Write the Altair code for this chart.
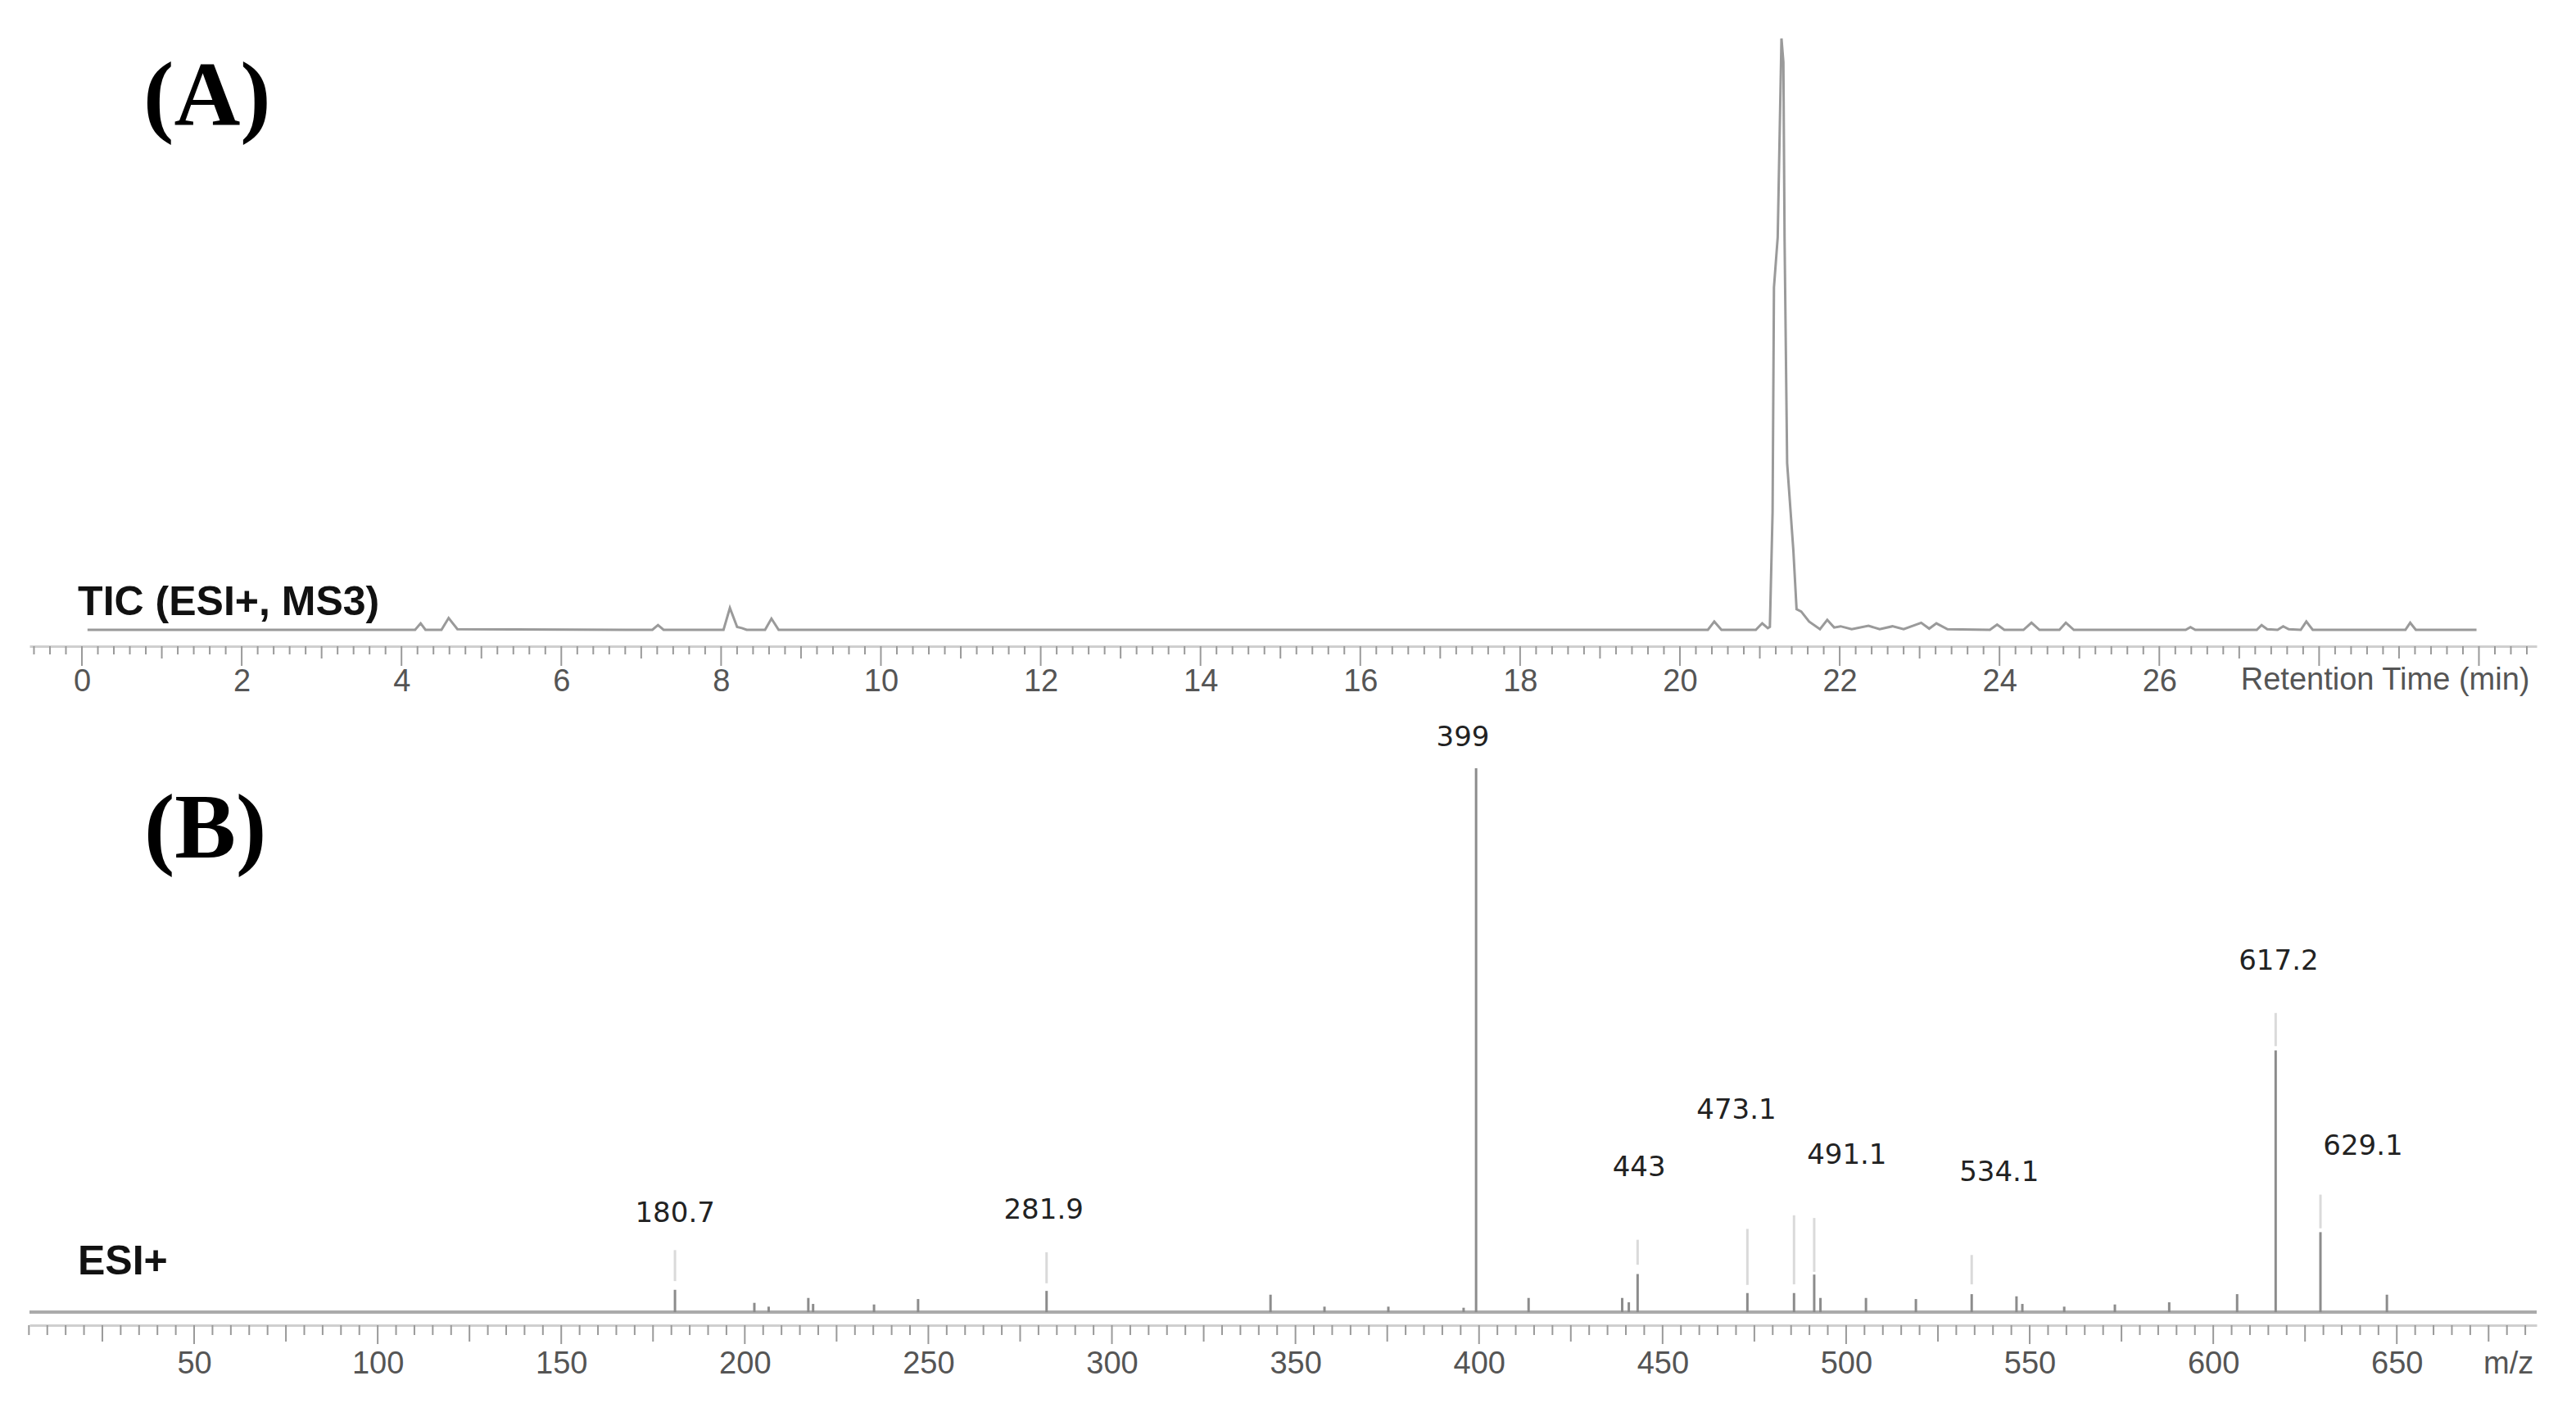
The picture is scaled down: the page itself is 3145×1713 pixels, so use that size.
import altair as alt
import numpy as np
import pandas as pd

# ---------------- Panel A: TIC chromatogram ----------------
tic_time = [0.07, 4.17, 4.24, 4.30, 4.50, 4.59, 4.70, 7.14, 7.21, 7.28,
            8.03, 8.11, 8.20, 8.26, 8.32, 8.55, 8.63, 8.72,
            20.35, 20.43, 20.52, 20.95, 21.03, 21.10, 21.126, 21.16, 21.177,
            21.224, 21.271, 21.295, 21.31, 21.342, 21.42, 21.46, 21.518,
            21.617, 21.753, 21.844, 21.93, 22.01, 22.15, 22.36, 22.50, 22.66,
            22.80, 23.02, 23.12, 23.21, 23.35, 23.88, 23.97, 24.06, 24.30,
            24.40, 24.50, 24.75, 24.83, 24.93, 26.33, 26.39, 26.45, 27.22,
            27.28, 27.35, 27.48, 27.55, 27.62, 27.77, 27.84, 27.92, 29.08,
            29.14, 29.21, 29.97]
tic_int = [0, 0, 1.1, 0, 0, 2.0, 0.1, 0, 0.8, 0,
           0, 3.7, 0.5, 0.3, 0, 0, 1.9, 0,
           0, 1.4, 0, 0, 1.1, 0.3, 0.5, 20, 57.9,
           66.4, 100, 96, 66, 28.2, 13.4, 3.5, 3.1,
           1.4, 0.1, 1.7, 0.4, 0.6, 0.1, 0.7, 0.1, 0.6,
           0.1, 1.2, 0.2, 1.1, 0.1, 0, 0.9, 0, 0,
           1.2, 0, 0, 1.2, 0, 0, 0.45, 0, 0,
           0.8, 0.1, 0, 0.6, 0.1, 0, 1.4, 0, 0,
           1.2, 0, 0]
tic_labels = [0, 2, 4, 6, 8, 10, 12, 14, 16, 18, 20, 22, 24, 26]

# ---------------- Panel B: ESI+ mass spectrum ----------------
ms_mz = [180.98, 202.6, 206.5, 217.3, 218.6, 235.2, 247.2, 282.2, 343.2,
         357.9, 375.3, 395.8, 399.2, 413.5, 439.0, 440.8, 443.2, 473.1,
         485.8, 491.3, 493.0, 505.4, 519.0, 534.2, 546.4, 548.0, 559.4,
         573.2, 588.0, 606.5, 617.0, 629.2, 647.3]
ms_int = [4.1, 1.7, 1.0, 2.6, 1.5, 1.4, 2.4, 3.9, 3.2,
          1.0, 1.0, 0.8, 100, 2.6, 2.6, 1.8, 7.0, 3.5,
          3.5, 6.9, 2.6, 2.6, 2.4, 3.3, 2.9, 1.5, 1.0,
          1.4, 1.8, 3.3, 48.1, 14.7, 3.2]
# faint leader segments above annotated peaks
lead_mz = [180.98, 282.2, 443.2, 473.1, 485.8, 491.3, 534.2, 617.0, 629.2]
lead_lo = [5.7, 5.3, 8.7, 5.0, 5.1, 7.4, 5.1, 48.9, 15.4]
lead_hi = [11.4, 11.0, 13.3, 15.3, 17.8, 17.3, 10.5, 55.0, 21.6]
ann_text = ["180.7", "281.9", "399", "443", "473.1", "491.1", "534.1", "617.2", "629.1"]
ann_mz = [181.0, 281.4, 395.6, 443.6, 470.1, 500.2, 541.7, 617.8, 640.8]
ann_y = [18.1, 18.7, 105.6, 26.5, 37.0, 28.8, 25.6, 64.5, 30.4]
ms_labels = [50, 100, 150, 200, 250, 300, 350, 400, 450, 500, 550, 600, 650]

W = 3061
H = 745
HB = 744
A_DOM = [-0.656, 30.723]
A_Y = [-2.770, 100.415]
B_DOM = [5.15, 688.1]
B_Y = [-2.410, 109.639]

GRAY_LINE = "#9a9a9a"
TICK_C = "#9a9a9a"
DOMAIN_C = "#cfcfcf"
LABEL_C = "#555555"

# tick positions
a_all = np.round(np.arange(-0.6, 30.65, 0.2), 1)
a_minor = [float(v) for v in a_all if abs(v - round(v)) > 1e-6]
a_mid = [v for v in range(1, 31, 2)]
a_major = [v for v in range(0, 31, 2)]
b_all = list(range(5, 690, 5))
b_minor = [v for v in b_all if v % 25 != 0]
b_mid = [v for v in b_all if v % 25 == 0 and v % 50 != 0]
b_major = [v for v in b_all if v % 50 == 0]

xa = alt.Scale(domain=A_DOM, nice=False, zero=False)
ya = alt.Scale(domain=A_Y, nice=False, zero=False)
xb = alt.Scale(domain=B_DOM, nice=False, zero=False)
yb = alt.Scale(domain=B_Y, nice=False, zero=False)

axis_a = alt.Axis(values=tic_labels, ticks=False, grid=False, domainColor=DOMAIN_C,
                  domainWidth=3, labelFontSize=38, labelFont="Liberation Sans",
                  labelColor=LABEL_C, labelPadding=24, title=None, labelFlush=False)
axis_b = alt.Axis(values=ms_labels, ticks=False, grid=False, domainColor=DOMAIN_C,
                  domainWidth=3, labelFontSize=38, labelFont="Liberation Sans",
                  labelColor=LABEL_C, labelPadding=28, title=None, labelFlush=False)


def tick_layer(vals, scale, axis, h, length):
    df = pd.DataFrame({"p": vals})
    return alt.Chart(df).mark_rule(color=TICK_C, strokeWidth=2).encode(
        x=alt.X("p:Q", scale=scale, axis=axis),
        y=alt.value(h), y2=alt.value(h + length),
    )


def text_layer(txt, x, y, scale_x, scale_y, axis, **kw):
    df = pd.DataFrame({"txt": [txt], "x": [x], "y": [y]})
    return alt.Chart(df).mark_text(**kw).encode(
        x=alt.X("x:Q", scale=scale_x, axis=axis),
        y=alt.Y("y:Q", scale=scale_y, axis=None),
        text="txt:N",
    )


# ---- panel A layers
tic_df = pd.DataFrame({"t": tic_time, "v": tic_int})
line_a = alt.Chart(tic_df).mark_line(color=GRAY_LINE, strokeWidth=3).encode(
    x=alt.X("t:Q", scale=xa, axis=axis_a),
    y=alt.Y("v:Q", scale=ya, axis=None),
)

panel_a = alt.layer(
    line_a,
    tick_layer(a_minor, xa, axis_a, H, 10),
    tick_layer(a_mid, xa, axis_a, H, 15),
    tick_layer(a_major, xa, axis_a, H, 24),
    text_layer("(A)", 0.77, 85.3, xa, ya, axis_a, font="Liberation Serif", fontWeight="bold",
               fontSize=112, align="left", baseline="alphabetic", color="#000000"),
    text_layer("TIC (ESI+, MS3)", -0.05, 2.5, xa, ya, axis_a, font="Liberation Sans",
               fontWeight="bold", fontSize=50, align="left", baseline="alphabetic",
               color="#111111"),
    text_layer("Retention Time (min)", 27.02, -10.1, xa, ya, axis_a, font="Liberation Sans",
               fontSize=38, align="left", baseline="alphabetic", color=LABEL_C),
).properties(width=W, height=H)

# ---- panel B layers
peaks_df = pd.DataFrame({"mz": ms_mz, "i": ms_int, "z": [0] * len(ms_mz)})
lead_df = pd.DataFrame({"mz": lead_mz, "lo": lead_lo, "hi": lead_hi})
ann_df = pd.DataFrame({"txt": ann_text, "mz": ann_mz, "y": ann_y})
base_df = pd.DataFrame({"a": [B_DOM[0]], "b": [B_DOM[1]], "z": [0]})

baseline_b = alt.Chart(base_df).mark_rule(color="#ababab", strokeWidth=4).encode(
    x=alt.X("a:Q", scale=xb, axis=axis_b), x2="b:Q",
    y=alt.Y("z:Q", scale=yb, axis=None),
)
bars_b = alt.Chart(peaks_df).mark_rule(color="#8c8c8c", strokeWidth=3).encode(
    x=alt.X("mz:Q", scale=xb, axis=axis_b),
    y=alt.Y("z:Q", scale=yb, axis=None), y2="i:Q",
)
lead_b = alt.Chart(lead_df).mark_rule(color="#dadada", strokeWidth=3).encode(
    x=alt.X("mz:Q", scale=xb, axis=axis_b),
    y=alt.Y("lo:Q", scale=yb, axis=None), y2="hi:Q",
)
ann_b = alt.Chart(ann_df).mark_text(font="DejaVu Sans", fontSize=34, color="#222222",
                                    align="center", baseline="middle").encode(
    x=alt.X("mz:Q", scale=xb, axis=axis_b),
    y=alt.Y("y:Q", scale=yb, axis=None),
    text="txt:N",
)

panel_b = alt.layer(
    baseline_b,
    bars_b,
    lead_b,
    ann_b,
    tick_layer(b_minor, xb, axis_b, HB, 12),
    tick_layer(b_mid, xb, axis_b, HB, 20),
    tick_layer(b_major, xb, axis_b, HB, 23),
    text_layer("(B)", 36.4, 83.6, xb, yb, axis_b, font="Liberation Serif", fontWeight="bold",
               fontSize=112, align="left", baseline="alphabetic", color="#000000"),
    text_layer("ESI+", 18.3, 6.97, xb, yb, axis_b, font="Liberation Sans", fontWeight="bold",
               fontSize=50, align="left", baseline="alphabetic", color="#111111"),
    text_layer("m/z", 673.6, -11.3, xb, yb, axis_b, font="Liberation Sans", fontSize=38,
               align="left", baseline="alphabetic", color=LABEL_C),
).properties(width=W, height=HB)

chart = alt.vconcat(panel_a, panel_b, spacing=85, bounds="flush").resolve_scale(
    x="independent", y="independent"
).properties(
    padding={"left": 26, "top": 32, "right": 10, "bottom": 10},
    background="#ffffff",
).configure_view(strokeWidth=0)

chart.save("out.html", embed_options={"renderer": "svg", "actions": False})
